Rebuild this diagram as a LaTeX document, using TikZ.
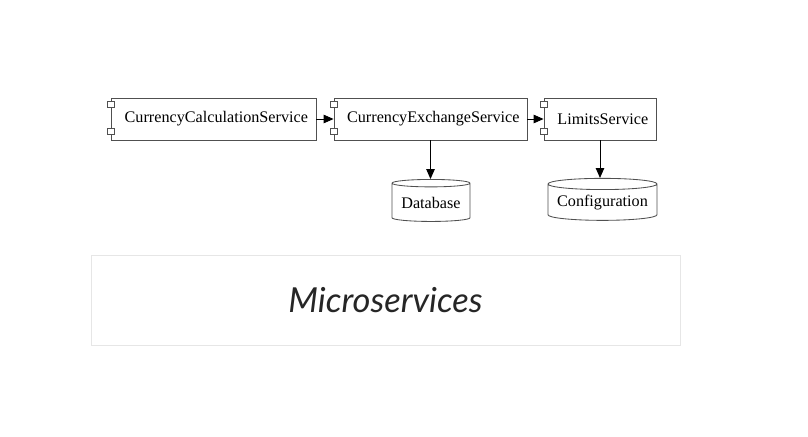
\documentclass[tikz,border=0pt]{standalone}
\usepackage{fontspec}
\setmainfont{Liberation Serif}
\newfontfamily\titlefont{Lato}
\usepackage{tikz}
\usetikzlibrary{shapes.geometric}
\usetikzlibrary{arrows.meta}

\definecolor{edgegray}{HTML}{505050}
\definecolor{panelgray}{HTML}{E6E6E6}

\tikzset{
  component/.style={draw=edgegray, semithick, fill=white, minimum height=1.05cm, inner sep=0pt, font=\fontsize{11.5}{13}\selectfont},
  store/.style={draw=edgegray, semithick, cylinder, shape border rotate=90, aspect=0.12, minimum height=1.05cm, inner sep=1pt, font=\fontsize{11.5}{13}\selectfont},
  link/.style={semithick, -{Triangle[length=7pt,width=6pt]}}
}

\begin{document}
\begin{tikzpicture}[x=0.025cm,y=-0.025cm]
\useasboundingbox (0,0) rectangle (808,436);
\fill[white] (0,0) rectangle (808,436);

% services
\node[component, minimum width=5.125cm] (calc) at (213.5,119) {\hspace*{4pt}CurrencyCalculationService};
\node[component, minimum width=4.825cm] (exch) at (430.5,119) {\hspace*{4pt}CurrencyExchangeService};
\node[component, minimum width=2.8cm] (limits) at (600,119) {\hspace*{4pt}LimitsService};

% component marks on the left edge
\foreach \n in {calc,exch,limits}{
  \draw[edgegray, fill=white] ([shift={(-3.5,-17.5)}]\n.west) rectangle ([shift={(4,-11.5)}]\n.west);
  \draw[edgegray, fill=white] ([shift={(-3.5,9.5)}]\n.west) rectangle ([shift={(4,15.5)}]\n.west);
}

% stores
\node[store, minimum width=1.95cm] (db) at (431,203) {Database};
\node[store, minimum width=2.725cm] (conf) at (602.5,203) {Configuration};

\draw[link] (calc) -- (exch);
\draw[link] (exch) -- (limits);
\draw[link] (exch.south) -- (exch.south |- db.top);
\draw[link] (limits.south) -- (limits.south |- conf.top);

% caption panel
\node[draw=panelgray, minimum width=14.725cm, minimum height=2.25cm] (panel) at (385.5,300) {};
\node[font=\titlefont\itshape\fontsize{24.5}{28}\selectfont, text=black!85] (title) at (panel.center) {Microservices};
\end{tikzpicture}
\end{document}
